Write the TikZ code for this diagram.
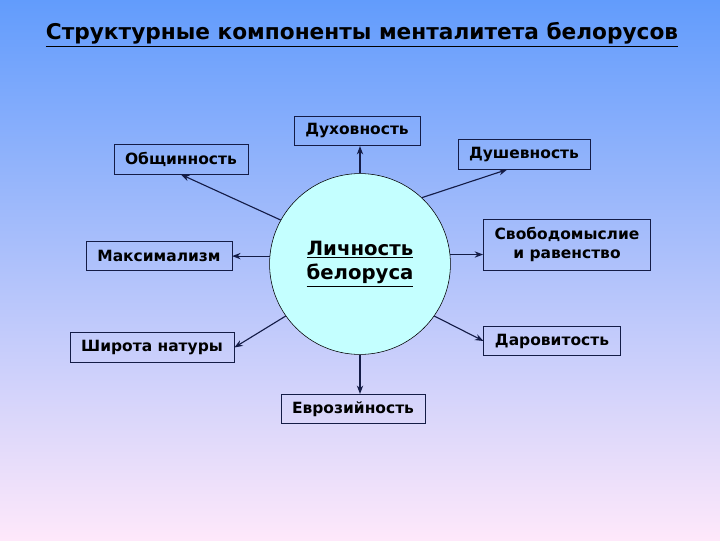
\documentclass[tikz,border=0pt]{standalone}
\usepackage{fontspec}
\setmainfont{DejaVu Sans}
\usetikzlibrary{arrows.meta}
\definecolor{navy}{RGB}{20,28,70}
\definecolor{circfill}{RGB}{196,255,255}
\definecolor{bgtop}{RGB}{98,156,252}
\definecolor{bgmid}{RGB}{165,200,242}
\definecolor{bgbot}{RGB}{254,232,250}

\begin{document}
\begin{tikzpicture}[x=0.025cm, y=-0.025cm,
    box/.style={draw=navy, text=black, font=\bfseries\fontsize{11}{14}\selectfont, inner xsep=8pt, minimum height=21pt, align=center},
    link/.style={navy, thick, -{Stealth[length=6pt,width=4.5pt]}}]
  % background
  \shade[top color=bgtop, middle color=bgmid, bottom color=bgbot] (0,0) rectangle (720,540);
  \node[font=\bfseries\fontsize{15.4}{18}\selectfont](title) at (362,35){\underline{Структурные компоненты менталитета белорусов}};
  % centre
  \node[circle, draw=black, fill=circfill, minimum size=4.52cm, align=center, font=\bfseries\fontsize{14}{17.5}\selectfont](lich) at (360,264){\underline{Личность}\\\underline{белоруса}};
  % components
  \node[box](duh) at (357,131){Духовность};
  \node[box](obsh) at (181,159.5){Общинность};
  \node[box](dush) at (524,154.5){Душевность};
  \node[box](maks) at (159,256){Максимализм};
  \node[box, minimum height=36pt](svob) at (567,244.5){Свободомыслие\\и равенство};
  \node[box](shir) at (152,347.5){Широта натуры};
  \node[box](dar) at (552,341){Даровитость};
  \node[box](evro) at (353,409){Еврозийность};
  % arrows
  \draw[link] (lich.north) -- (lich.north |- duh.south);
  \draw[link] (lich.151) -- (obsh.south);
  \draw[link] (lich.47) -- ([xshift=-0.42cm]dush.south);
  \draw[link] (lich.175) -- (lich.175 -| maks.east);
  \draw[link] (lich.6) -- (lich.6 -| svob.west);
  \draw[link] (lich.215) -- (shir.east);
  \draw[link] (lich.-35) -- (dar.west);
  \draw[link] (lich.south) -- (lich.south |- evro.north);
\end{tikzpicture}
\end{document}
